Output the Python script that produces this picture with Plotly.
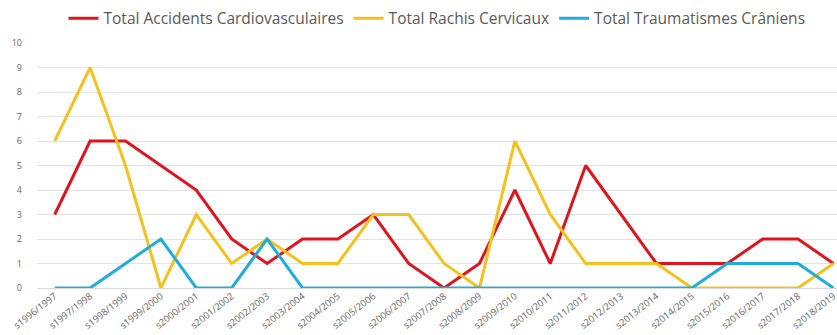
import plotly.graph_objects as go

seasons = ["s1996/1997", "s1997/1998", "s1998/1999", "s1999/2000", "s2000/2001",
           "s2001/2002", "s2002/2003", "s2003/2004", "s2004/2005", "s2005/2006",
           "s2006/2007", "s2007/2008", "s2008/2009", "s2009/2010", "s2010/2011",
           "s2011/2012", "s2012/2013", "s2013/2014", "s2014/2015", "s2015/2016",
           "s2016/2017", "s2017/2018", "s2018/2019"]

cardio = [3, 6, 6, 5, 4, 2, 1, 2, 2, 3, 1, 0, 1, 4, 1, 5, 3, 1, 1, 1, 2, 2, 1]
rachis = [6, 9, 5, 0, 3, 1, 2, 1, 1, 3, 3, 1, 0, 6, 3, 1, 1, 1, 0, 0, 0, 0, 1]
trauma = [0, 0, 1, 2, 0, 0, 2, 0, 0, 0, 0, 0, 0, 0, 0, 0, 0, 0, 0, 1, 1, 1, 0]

names = ["Total Accidents Cardiovasculaires", "Total Rachis Cervicaux",
         "Total Traumatismes Crâniens"]
colors = ["#E0141E", "#F5C11E", "#1FAEDB"]

fig = go.Figure()
for name, vals, col in zip(names, [cardio, rachis, trauma], colors):
    fig.add_trace(go.Scatter(x=seasons, y=vals, mode="lines", name=name,
                             line=dict(color=col, width=3)))

fig.update_layout(
    width=837, height=335,
    margin=dict(l=37, r=0, t=43, b=47),
    paper_bgcolor="white", plot_bgcolor="white",
    font=dict(family="Open Sans, sans-serif", color="#595959"),
    showlegend=True,
    legend=dict(orientation="h", x=0.5, xanchor="center", y=0.995, yanchor="top",
                yref="container", font=dict(size=15.5, color="#595959"),
                tracegroupgap=0, traceorder="normal", itemwidth=30),
    xaxis=dict(type="category", range=[-0.5, 22.1], tickangle=-38,
               tickfont=dict(size=9.5, color="#666666"), showgrid=False,
               showline=False, ticks=""),
    yaxis=dict(range=[0, 10], dtick=1, tickfont=dict(size=9, color="#666666"),
               showgrid=True, gridcolor="#E3E3E3", gridwidth=1, zeroline=True,
               zerolinecolor="#D9D9D9", zerolinewidth=1, ticks="",
               ticklabelstandoff=14),
)

fig.write_html("out.html")
